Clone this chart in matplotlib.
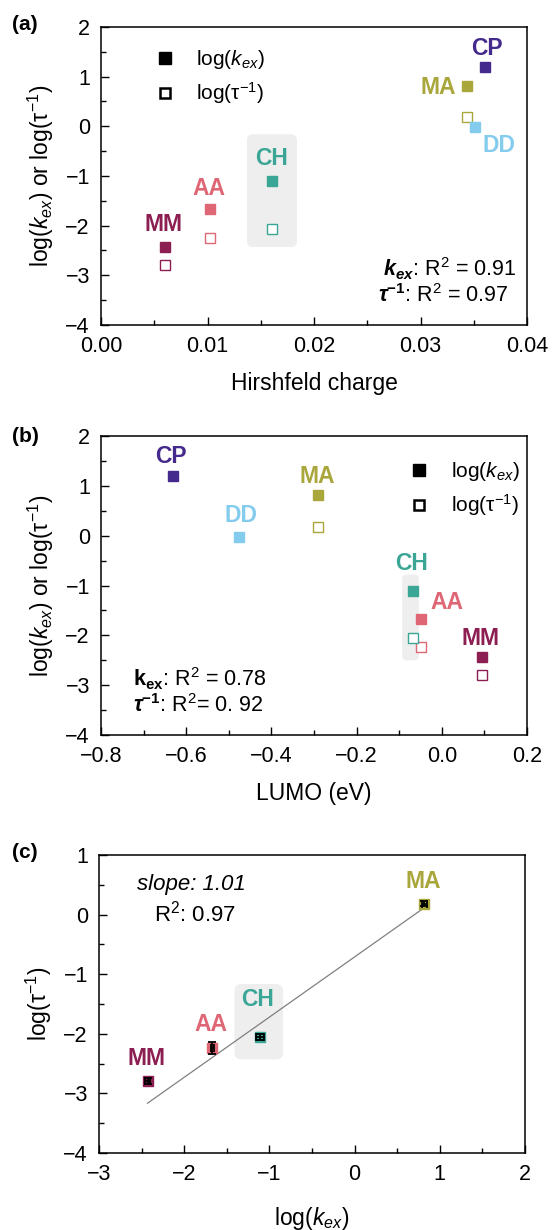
import numpy as np
import matplotlib
matplotlib.use("Agg")
import matplotlib.pyplot as plt
from matplotlib.patches import FancyBboxPatch
from matplotlib.lines import Line2D
from matplotlib.ticker import MultipleLocator, FuncFormatter

plt.rcParams['font.family'] = ['Liberation Sans', 'DejaVu Sans']
plt.rcParams['mathtext.fontset'] = 'custom'
plt.rcParams['mathtext.rm'] = 'Liberation Sans'
plt.rcParams['mathtext.it'] = 'Liberation Sans:italic'
plt.rcParams['mathtext.bf'] = 'Liberation Sans:bold'
try:
    plt.rcParams['mathtext.bfit'] = 'Liberation Sans:bold:italic'
except KeyError:
    pass

# ---------------- data ----------------
compounds = ['MM', 'AA', 'CH', 'MA', 'DD', 'CP']
colors = ['#8C1E52', '#DE6675', '#3BA696', '#A9A63C', '#84CCEE', '#432A8C']
hirshfeld = [0.0060, 0.0102, 0.0161, 0.0344, 0.0351, 0.0361]
lumo = [0.095, -0.049, -0.067, -0.291, -0.475, -0.632]
log_kex = [-2.43, -1.67, -1.11, 0.82, -0.02, 1.19]
log_tau = [-2.79, -2.24, -2.06, 0.18, np.nan, np.nan]

# panel (c): compounds with both values
c_compounds = ['MM', 'AA', 'CH', 'MA']
c_xerr = [0.03, 0.02, 0.05, 0.03]
c_yerr = [0.05, 0.10, 0.05, 0.04]
fit_slope = 1.01
fit_intercept = -0.71

# ---------------- style / layout ----------------
W, H = 552, 1230
fig = plt.figure(figsize=(W / 100, H / 100), dpi=100)

def ax_rect(l, t, r, b):
    return [l / W, 1 - b / H, (r - l) / W, (b - t) / H]

TICK_FS = 15.5
LAB_FS = 16.5
NAME_FS = 16.5
TXT_FS = 15.5
LEG_FS = 15
col = dict(zip(compounds, colors))

def fmt(dec):
    return FuncFormatter(lambda v, p: f'{v:.{dec}f}'.replace('-', '\u2212')
                         if abs(v) > 1e-12 else f'{0:.{dec}f}')

def style_axes(ax):
    for s in ax.spines.values():
        s.set_linewidth(1.1)
    ax.tick_params(which='both', direction='in', width=1.0, labelsize=TICK_FS)
    ax.tick_params(which='major', length=6)
    ax.tick_params(which='minor', length=3.5)
    ax.tick_params(axis='y', which='both', pad=8)
    ax.tick_params(axis='x', which='both', pad=8)

def add_box(ax, x0, x1, y0, y1, r_px=6):
    xl, yl = ax.get_xlim(), ax.get_ylim()
    bb = ax.get_position()
    wpx = bb.width * W
    hpx = bb.height * H
    xu = (xl[1] - xl[0]) / wpx
    yu = (yl[1] - yl[0]) / hpx
    p = FancyBboxPatch((x0, y0), x1 - x0, y1 - y0,
                       boxstyle=f"round,pad=0,rounding_size={r_px * xu}",
                       mutation_aspect=yu / xu,
                       fc='#EEEEEE', ec='none', zorder=0)
    ax.add_patch(p)

def legend(ax, x, y):
    h = [Line2D([], [], marker='s', ls='none', color='k', ms=8.5),
         Line2D([], [], marker='s', ls='none', mfc='white', mec='k', mew=1.8, ms=7.5)]
    ax.legend(h, ['log($k_{ex}$)', 'log(τ$^{-1}$)'], loc='upper left',
              bbox_to_anchor=(x, y), frameon=False, fontsize=LEG_FS,
              handlelength=1.0, handletextpad=1.0, labelspacing=0.45,
              borderpad=0, borderaxespad=0)

# ---------------- panel (a) ----------------
axa = fig.add_axes(ax_rect(101, 27, 527, 325))
axa.set_xlim(0, 0.04)
axa.set_ylim(-4, 2)
style_axes(axa)
axa.xaxis.set_major_locator(MultipleLocator(0.01))
axa.xaxis.set_minor_locator(MultipleLocator(0.005))
axa.yaxis.set_major_locator(MultipleLocator(1))
axa.yaxis.set_minor_locator(MultipleLocator(0.5))
axa.xaxis.set_major_formatter(fmt(2))
axa.yaxis.set_major_formatter(fmt(0))
add_box(axa, 0.0137, 0.0184, -2.43, -0.16)
for name, x, k, t in zip(compounds, hirshfeld, log_kex, log_tau):
    axa.plot(x, k, marker='s', ls='none', color=col[name], ms=7, zorder=3)
    if not np.isnan(t):
        axa.plot(x, t, marker='s', ls='none', mfc='white', mec=col[name],
                 mew=1.0, ms=7, zorder=3)
a_lab = {'MM': (0.0059, -1.98), 'AA': (0.0101, -1.25), 'CH': (0.0160, -0.65),
         'MA': (0.0317, 0.79), 'DD': (0.0374, -0.38), 'CP': (0.0362, 1.56)}
for name, (lx, ly) in a_lab.items():
    axa.text(lx, ly, name, color=col[name], fontsize=NAME_FS, fontweight='bold',
             ha='center', va='center')
legend(axa, 0.125, 0.93)
axa.text(0.975, 0.188, r'$\mathbfit{k}_{\mathbfit{ex}}$: R$^2$ = 0.91', transform=axa.transAxes,
         ha='right', va='center', fontsize=TXT_FS)
axa.text(0.958, 0.100, r'$\mathbfit{\tau}^{\mathbf{-1}}$: R$^2$ = 0.97', transform=axa.transAxes,
         ha='right', va='center', fontsize=TXT_FS)
axa.set_xlabel('Hirshfeld charge', fontsize=LAB_FS, labelpad=11)
axa.set_ylabel('log($k_{ex}$) or log(τ$^{-1}$)', fontsize=LAB_FS, labelpad=7)

# ---------------- panel (b) ----------------
axb = fig.add_axes(ax_rect(101, 436, 527, 735))
axb.set_xlim(-0.8, 0.2)
axb.set_ylim(-4, 2)
style_axes(axb)
axb.xaxis.set_major_locator(MultipleLocator(0.2))
axb.xaxis.set_minor_locator(MultipleLocator(0.1))
axb.yaxis.set_major_locator(MultipleLocator(1))
axb.yaxis.set_minor_locator(MultipleLocator(0.5))
axb.xaxis.set_major_formatter(fmt(1))
axb.yaxis.set_major_formatter(fmt(0))
add_box(axb, -0.093, -0.054, -2.50, -0.78, r_px=4)
for name, x, k, t in zip(compounds, lumo, log_kex, log_tau):
    axb.plot(x, k, marker='s', ls='none', color=col[name], ms=7, zorder=3)
    if not np.isnan(t):
        axb.plot(x, t, marker='s', ls='none', mfc='white', mec=col[name],
                 mew=1.0, ms=7, zorder=3)
b_lab = {'MM': (0.091, -2.06), 'AA': (0.012, -1.35), 'CH': (-0.070, -0.55),
         'MA': (-0.293, 1.18), 'DD': (-0.472, 0.41), 'CP': (-0.635, 1.59)}
for name, (lx, ly) in b_lab.items():
    axb.text(lx, ly, name, color=col[name], fontsize=NAME_FS, fontweight='bold',
             ha='center', va='center')
legend(axb, 0.723, 0.92)
axb.text(0.075, 0.189, r'$\mathbf{k_{ex}}$: R$^2$ = 0.78', transform=axb.transAxes,
         ha='left', va='center', fontsize=TXT_FS)
axb.text(0.075, 0.100, r'$\mathbfit{\tau}^{\mathbf{-1}}$: R$^2$= 0. 92', transform=axb.transAxes,
         ha='left', va='center', fontsize=TXT_FS)
axb.set_xlabel('LUMO (eV)', fontsize=LAB_FS, labelpad=11)
axb.set_ylabel('log($k_{ex}$) or log(τ$^{-1}$)', fontsize=LAB_FS, labelpad=7)

# ---------------- panel (c) ----------------
axc = fig.add_axes(ax_rect(99, 855, 525, 1153))
axc.set_xlim(-3, 2)
axc.set_ylim(-4, 1)
style_axes(axc)
axc.xaxis.set_major_locator(MultipleLocator(1))
axc.xaxis.set_minor_locator(MultipleLocator(0.5))
axc.yaxis.set_major_locator(MultipleLocator(1))
axc.yaxis.set_minor_locator(MultipleLocator(0.5))
axc.xaxis.set_major_formatter(fmt(0))
axc.yaxis.set_major_formatter(fmt(0))
add_box(axc, -1.41, -0.84, -2.43, -1.165, r_px=7)
cx = [log_kex[compounds.index(n)] for n in c_compounds]
cy = [log_tau[compounds.index(n)] for n in c_compounds]
for name, x, y, xe, ye in zip(c_compounds, cx, cy, c_xerr, c_yerr):
    axc.plot(x, y, marker='s', ls='none', color=col[name], ms=7.5, zorder=3)
    axc.errorbar(x, y, xerr=xe, yerr=ye, fmt='none', ecolor='k', elinewidth=1.3,
                 capsize=3, capthick=1.3, zorder=4)
xf = np.array([min(cx), max(cx)])
axc.plot(xf, fit_slope * xf + fit_intercept, color='#808080', lw=0.9, zorder=2)
c_lab = {'MM': (-2.44, -2.415), 'AA': (-1.69, -1.84), 'CH': (-1.137, -1.43),
         'MA': (0.81, 0.56)}
for name, (lx, ly) in c_lab.items():
    axc.text(lx, ly, name, color=col[name], fontsize=NAME_FS, fontweight='bold',
             ha='center', va='center')
axc.text(0.218, 0.90, 'slope: 1.01', style='italic', transform=axc.transAxes,
         ha='center', va='center', fontsize=TXT_FS + 0.5)
axc.text(0.226, 0.805, 'R$^2$: 0.97', transform=axc.transAxes,
         ha='center', va='center', fontsize=TXT_FS + 0.5)
axc.set_xlabel('log($k_{ex}$)', fontsize=LAB_FS, labelpad=14)
axc.set_ylabel('log(τ$^{-1}$)', fontsize=LAB_FS, labelpad=7)

# panel letters
for lab, yc in [('(a)', 25), ('(b)', 436), ('(c)', 853)]:
    fig.text(12 / W, 1 - yc / H, lab, fontsize=15, fontweight='bold', ha='left', va='center')

fig.savefig('out.png', dpi=100)
